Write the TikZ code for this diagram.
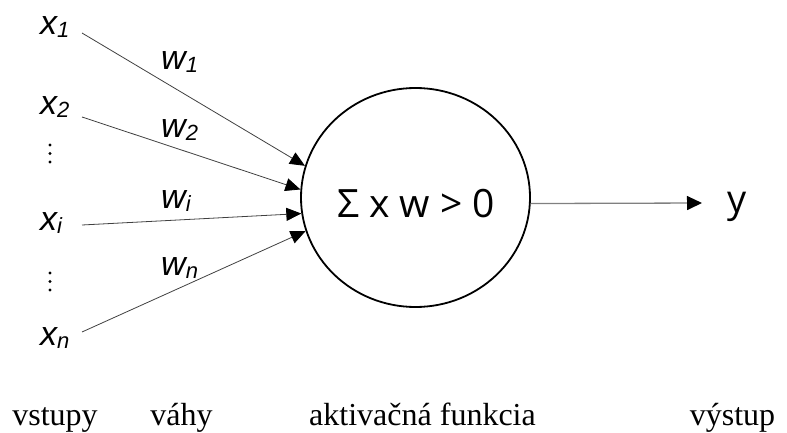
\documentclass[tikz,border=0pt]{standalone}
\usepackage{fontspec}
\setmainfont{Liberation Serif}
\setsansfont{Liberation Sans}
\newfontfamily\opensans{Open Sans}
\usetikzlibrary{shapes.geometric,arrows.meta}
\newcommand{\lbl}[2]{#1\raisebox{-3pt}{\fontsize{22}{22}\selectfont #2}}
\begin{document}
\begin{tikzpicture}[x=1pt,y=-1pt,
  inlab/.style={inner sep=0pt,anchor=base west,font=\sffamily\itshape\fontsize{34}{38}\selectfont},
  botlab/.style={inner sep=0pt,anchor=base,font=\rmfamily\fontsize{32}{36}\selectfont},
  wire/.style={draw=black!75,line width=0.8pt,-{Triangle[length=15pt,width=13pt,color=black,fill=black]}},
  outwire/.style={draw=black!50,line width=1.3pt,-{Triangle[length=15pt,width=14pt,color=black,fill=black]}},
  neuron/.style={draw=black,line width=1.8pt,ellipse,minimum width=229pt,minimum height=219pt,inner sep=0pt}]
\useasboundingbox (0,0) rectangle (787,433);
% neuron
\node[neuron] (circ) at (415.5,197.5) {};
\node[inner sep=0pt,anchor=base,font=\opensans\fontsize{39}{44}\selectfont] (sum) at (416,217) {Σ x w > 0};
% input labels
\node[inlab] (x1) at (40,35) {\lbl{x}{1}};
\node[inlab] (x2) at (40,115) {\lbl{x}{2}};
\node[inlab] (xi) at (40,230) {\lbl{x}{i}};
\node[inlab] (xn) at (40,345) {\lbl{x}{n}};
% weight labels
\node[inlab] (w1) at (161,70) {\lbl{w}{1}};
\node[inlab] (w2) at (161,138) {\lbl{w}{2}};
\node[inlab] (wi) at (161,208) {\lbl{w}{i}};
\node[inlab] (wn) at (161,275) {\lbl{w}{n}};
% vertical dots
\foreach \yy in {145,153.5,162,273,281.5,290} \fill (50,\yy) circle (1.7pt);
% start points
\coordinate (s1) at (82,33);
\coordinate (s2) at (82,117);
\coordinate (si) at (82,225);
\coordinate (sn) at (82,332);
\draw[wire] (s1) -- (circ.164);
\draw[wire] (s2) -- (circ.176.5);
\draw[wire] (si) -- (circ.188);
\draw[wire] (sn) -- (circ.197.5);
% output
\coordinate (yout) at (702,203);
\draw[outwire] (circ.-3) -- (yout);
\node[inner sep=0pt,anchor=base,font=\opensans\fontsize{38}{40}\selectfont] (y) at (737,212) {y};
% bottom labels
\node[botlab] (l1) at (55,425) {vstupy};
\node[botlab] (l2) at (181.5,425) {váhy};
\node[botlab] (l3) at (422.5,425) {aktivačná funkcia};
\node[botlab] (l4) at (732.5,425) {výstup};
\end{tikzpicture}
\end{document}
